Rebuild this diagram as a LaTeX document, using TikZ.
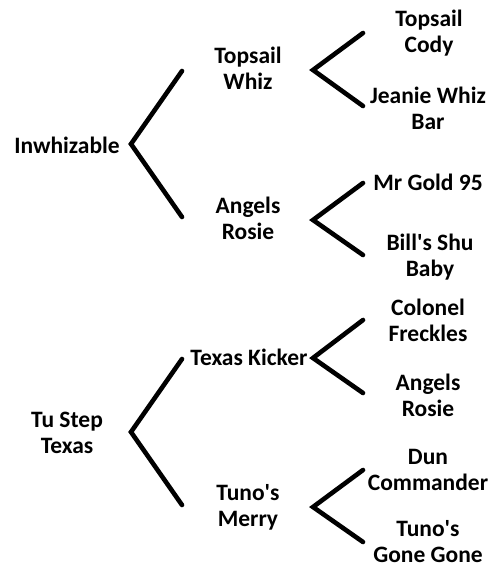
\documentclass[tikz,border=0pt]{standalone}
\usepackage{fontspec}
\setmainfont{Carlito}
\begin{document}
\begin{tikzpicture}[x=1pt,y=-1pt,
  lbl/.style={font=\bfseries\fontsize{23.5}{26}\selectfont, align=center, inner sep=0pt},
  br/.style={line width=4.6pt, line cap=round, line join=miter}]
\useasboundingbox (0,0) rectangle (493,568);
% level 0
\node[lbl] (inw) at (67,145) {Inwhizable};
\node[lbl] (tus) at (67,433) {Tu Step\\Texas};
% level 1
\node[lbl] (tw) at (248,68) {Topsail\\Whiz};
\node[lbl] (ar) at (248,218) {Angels\\Rosie};
\node[lbl] (tk) at (249,357) {Texas Kicker};
\node[lbl] (tm) at (248,507) {Tuno\textquotesingle s\\Merry};
% level 2
\node[lbl] (tc) at (429,33) {Topsail\\Cody};
\node[lbl] (jw) at (428,108) {Jeanie Whiz\\Bar};
\node[lbl] (mg) at (428,182) {Mr Gold 95};
\node[lbl] (bs) at (430,257) {Bill\textquotesingle s Shu\\Baby};
\node[lbl] (cf) at (428,320) {Colonel\\Freckles};
\node[lbl] (ars) at (428,395) {Angels\\Rosie};
\node[lbl] (dc) at (428,470) {Dun\\Commander};
\node[lbl] (tg) at (428,541.5) {Tuno\textquotesingle s\\Gone Gone};
% bracket coordinates
\coordinate (v0) at (131,144);
\coordinate (v0a) at (182,71);
\coordinate (v0b) at (182,217);
\coordinate (v1) at (131,432);
\coordinate (v1a) at (182,359);
\coordinate (v1b) at (182,505);
\coordinate (w0) at (313,70);
\coordinate (w0a) at (363,33);
\coordinate (w0b) at (363,106);
\coordinate (w1) at (313,220);
\coordinate (w1a) at (363,183);
\coordinate (w1b) at (363,255);
\coordinate (w2) at (313,358);
\coordinate (w2a) at (363,320);
\coordinate (w2b) at (363,393);
\coordinate (w3) at (313,507);
\coordinate (w3a) at (363,470);
\coordinate (w3b) at (363,542);
\draw[br] (v0a) -- (v0) -- (v0b);
\draw[br] (v1a) -- (v1) -- (v1b);
\draw[br] (w0a) -- (w0) -- (w0b);
\draw[br] (w1a) -- (w1) -- (w1b);
\draw[br] (w2a) -- (w2) -- (w2b);
\draw[br] (w3a) -- (w3) -- (w3b);
\end{tikzpicture}
\end{document}
